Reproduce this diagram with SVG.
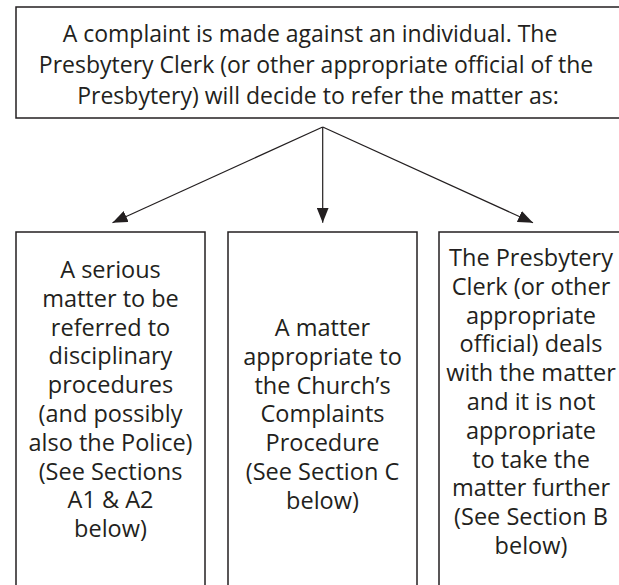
<svg xmlns="http://www.w3.org/2000/svg" width="619" height="585" viewBox="0 0 619 585">
<defs>
<marker id="ah" viewBox="0 0 15 12" refX="15" refY="6" markerWidth="15" markerHeight="12" markerUnits="userSpaceOnUse" orient="auto">
<path d="M0,0 L15,6 L0,12 z" fill="#231f20"/>
</marker>
<style>
.box{fill:#fff;stroke:#231f20;stroke-width:1.5}
.t{font-family:"Open Sans","Liberation Sans",sans-serif;font-size:23.5px;fill:#231f20;text-anchor:middle}
.h{font-size:23px}
.c{stroke:#231f20;stroke-width:1.2;fill:none;marker-end:url(#ah)}
</style>
</defs>
<rect width="619" height="585" fill="#fff"/>
<g id="top">
<rect class="box" x="16" y="7" width="612" height="111"/>
<text class="t h" x="310" y="42">A complaint is made against an individual. The</text>
<text class="t h" x="316" y="73">Presbytery Clerk (or other appropriate official of the</text>
<text class="t h" x="318" y="104">Presbytery) will decide to refer the matter as:</text>
</g>
<g id="connectors">
<line class="c" x1="322.7" y1="127" x2="112.5" y2="222.7"/>
<line class="c" x1="322.7" y1="127" x2="322.7" y2="222.7"/>
<line class="c" x1="322.7" y1="127" x2="533" y2="222.7"/>
</g>
<g id="left">
<rect class="box" x="16" y="232" width="189" height="360"/>
<text class="t" x="110.5" y="278">A serious</text>
<text class="t" x="110.5" y="306.8">matter to be</text>
<text class="t" x="110.5" y="335.6">referred to</text>
<text class="t" x="110.5" y="364.4">disciplinary</text>
<text class="t" x="110.5" y="393.2">procedures</text>
<text class="t" x="110.5" y="422">(and possibly</text>
<text class="t" x="110.5" y="450.8">also the Police)</text>
<text class="t" x="110.5" y="479.6">(See Sections</text>
<text class="t" x="110.5" y="508.4">A1 &amp; A2</text>
<text class="t" x="110.5" y="537.2">below)</text>
</g>
<g id="middle">
<rect class="box" x="228" y="232" width="189" height="360"/>
<text class="t" x="322.5" y="336">A matter</text>
<text class="t" x="322.5" y="364.8">appropriate to</text>
<text class="t" x="322.5" y="393.6">the Church’s</text>
<text class="t" x="322.5" y="422.4">Complaints</text>
<text class="t" x="322.5" y="451.2">Procedure</text>
<text class="t" x="322.5" y="480">(See Section C</text>
<text class="t" x="322.5" y="508.8">below)</text>
</g>
<g id="right">
<rect class="box" x="439" y="232" width="189" height="360"/>
<text class="t" x="531" y="266">The Presbytery</text>
<text class="t" x="531" y="294.8">Clerk (or other</text>
<text class="t" x="531" y="323.6">appropriate</text>
<text class="t" x="531" y="352.4">official) deals</text>
<text class="t" x="531" y="381.2">with the matter</text>
<text class="t" x="531" y="410">and it is not</text>
<text class="t" x="531" y="438.8">appropriate</text>
<text class="t" x="531" y="467.6">to take the</text>
<text class="t" x="531" y="496.4">matter further</text>
<text class="t" x="531" y="525.2">(See Section B</text>
<text class="t" x="531" y="554">below)</text>
</g>
</svg>
